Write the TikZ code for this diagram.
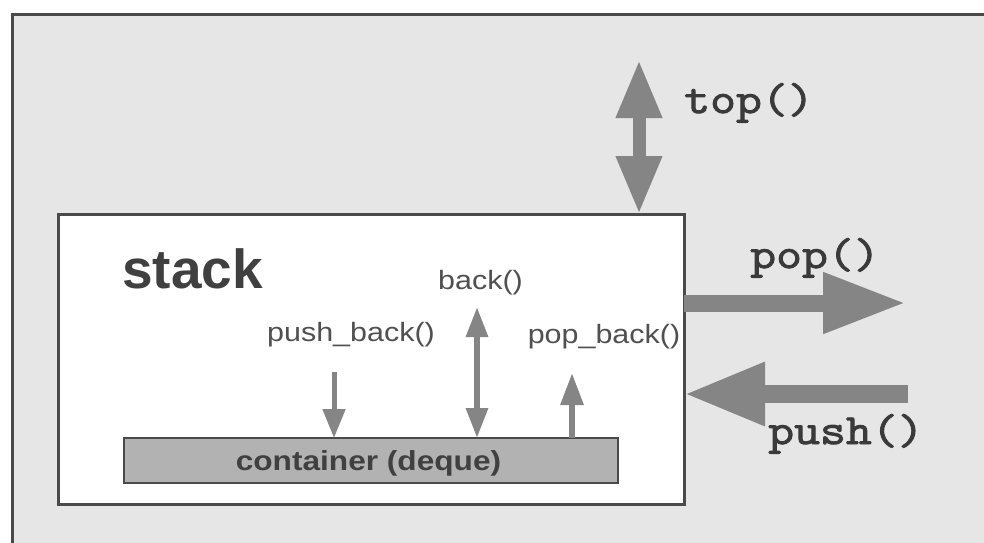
\documentclass[tikz,border=0pt]{standalone}
\usepackage{fontspec}
\usetikzlibrary{arrows.meta}
\newfontfamily\sansL[FakeStretch=1.15]{Liberation Sans}
\newfontfamily\sansB{Liberation Sans}
\newfontfamily\monoB[FakeStretch=1.17, FakeBold=2.2]{Latin Modern Mono}
\definecolor{bggray}{HTML}{E6E6E6}
\definecolor{framegray}{HTML}{4A4A4A}
\definecolor{arrowgray}{HTML}{858585}
\definecolor{contgray}{HTML}{B2B2B2}
\definecolor{textgray}{HTML}{505050}
\definecolor{titlegray}{HTML}{404040}
\definecolor{monogray}{HTML}{3A3A3A}
\tikzset{
  boxframe/.style={draw=framegray, line width=3pt, fill=white, inner sep=0pt, outer sep=0pt},
  contbox/.style={draw=framegray, line width=2.5pt, fill=contgray, inner sep=0pt, outer sep=0pt},
  smalllabel/.style={inner sep=0pt, text=textgray, font=\sansL\fontsize{26.5}{30}\selectfont},
  titlelabel/.style={inner sep=0pt, text=titlegray, font=\sansB\bfseries\fontsize{55}{60}\selectfont},
  contlabel/.style={inner sep=0pt, text=titlegray, font=\sansL\bfseries\fontsize{27.5}{30}\selectfont},
  monolabel/.style={inner sep=0pt, text=monogray, font=\monoB\fontsize{43}{45}\selectfont},
  bigarrow/.style={draw=arrowgray, line cap=butt},
  smallarrow/.style={draw=arrowgray, line cap=butt},
}
\begin{document}
\begin{tikzpicture}[x=1pt, y=-1pt]
\useasboundingbox (0,0) rectangle (984,542);
\clip (0,0) rectangle (984,542);
\fill[white] (0,0) rectangle (984,542);
% outer frame
\draw[draw=framegray, line width=3pt, fill=bggray] (12,14) rectangle (1010,570);
% stack box
\node[boxframe, minimum width=626pt, minimum height=290pt] (stk) at (371,359) {};
% container
\node[contbox, minimum width=494pt, minimum height=45pt] (cont) at (371,460.5) {};
\node[contlabel, anchor=base] (contlbl) at (368.5,470) {container (deque)};
% labels
\node[titlelabel, anchor=base west] (stacklbl) at (122,288) {stack};
\node[smalllabel, anchor=base] (pblbl) at (351,341) {push\_back()};
\node[smalllabel, anchor=base] (bklbl) at (480.5,289) {back()};
\node[smalllabel, anchor=base] (pplbl) at (604,343) {pop\_back()};
\node[monolabel, anchor=base west] (toplbl) at (684,113) {top()};
\node[monolabel, anchor=base west] (poplbl) at (750,268) {pop()};
\node[monolabel, anchor=base west] (pushlbl) at (768,444) {push()};
% end coordinates
\coordinate (topend) at (639,60);
\coordinate (popend) at (906,303);
\coordinate (pushstart) at (908,394);
\coordinate (pbstart) at (334,372);
\coordinate (bktop) at (477,307);
\coordinate (ppbtop) at (572,373);
% big arrows
\draw[bigarrow, line width=13pt, {Triangle[length=58pt,width=43pt]}-{Triangle[length=58pt,width=43pt]}]
  (stk.north -| topend) -- (topend);
\draw[bigarrow, line width=17pt, -{Triangle[length=83pt,width=57pt]}]
  (stk.east |- popend) -- (popend);
\draw[bigarrow, line width=18pt, -{Triangle[length=81pt,width=59pt]}]
  (pushstart) -- (stk.east |- pushstart);
% small arrows
\draw[smallarrow, line width=5pt, -{Triangle[length=29pt,width=22pt]}]
  (pbstart) -- (cont.north -| pbstart);
\draw[smallarrow, line width=6pt, {Triangle[length=30pt,width=21pt]}-{Triangle[length=30pt,width=21pt]}]
  (bktop) -- (cont.north -| bktop);
\draw[smallarrow, line width=6pt, -{Triangle[length=32pt,width=22pt]}]
  (cont.north -| ppbtop) -- (ppbtop);
\end{tikzpicture}
\end{document}
